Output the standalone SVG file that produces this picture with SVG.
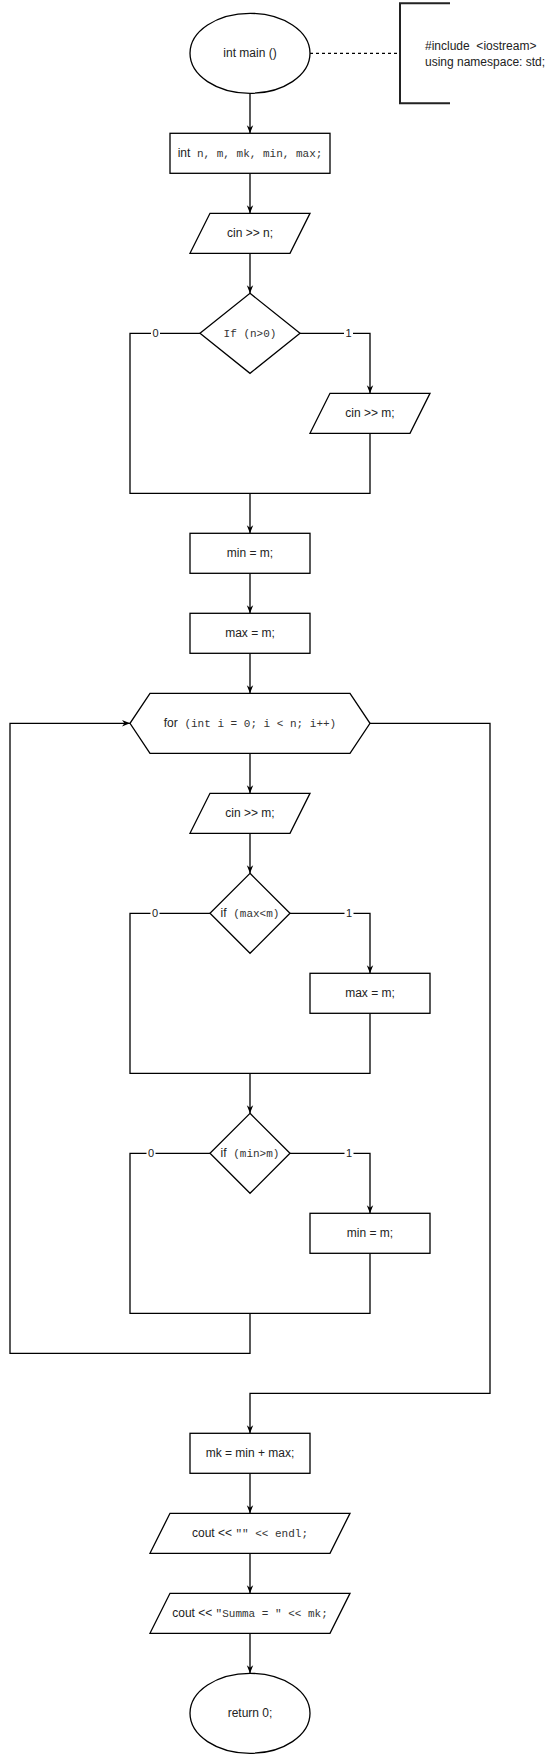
<svg xmlns="http://www.w3.org/2000/svg" width="551" height="1756" viewBox="0 0 551 1756">
<style>
.s{fill:#fff;stroke:#000;stroke-width:1.3}
.t{font-family:"Liberation Sans",Arial,sans-serif;font-size:12px;fill:#222;text-anchor:middle}
.m{font-family:"Liberation Mono","DejaVu Sans Mono",monospace;font-size:11px;fill:#333}
.c{fill:none;stroke:#000;stroke-width:1.3}
.a{marker-end:url(#arr)}
.lb{font-family:"Liberation Sans",Arial,sans-serif;font-size:11px;fill:#222;text-anchor:middle}
</style>
<defs>
<marker id="arr" viewBox="0 0 10 10" refX="10" refY="5" markerWidth="8" markerHeight="8" markerUnits="userSpaceOnUse" orient="auto">
<path d="M0,1 L10,5 L0,9 L3,5 Z" fill="#000"/>
</marker>
</defs>
<rect width="551" height="1756" fill="#fff"/>
<g id="connectors">
<path class="c" d="M310,53.3 H400" stroke-dasharray="3,3"/>
<path class="c a" d="M250,93.3 V133.3"/>
<path class="c a" d="M250,173.3 V213.3"/>
<path class="c a" d="M250,253.3 V293.3"/>
<path class="c" d="M200,333.3 H130 V493.3 H370 V433.3"/>
<path class="c a" d="M300,333.3 H370 V393.3"/>
<path class="c a" d="M250,493.3 V533.3"/>
<path class="c a" d="M250,573.3 V613.3"/>
<path class="c a" d="M250,653.3 V693.3"/>
<path class="c a" d="M250,753.3 V793.3"/>
<path class="c a" d="M250,833.3 V873.3"/>
<path class="c" d="M210,913.3 H130 V1073.3 H370 V1013.3"/>
<path class="c a" d="M290,913.3 H370 V973.3"/>
<path class="c a" d="M250,1073.3 V1113.3"/>
<path class="c" d="M210,1153.3 H130 V1313.3 H370 V1253.3"/>
<path class="c a" d="M290,1153.3 H370 V1213.3"/>
<path class="c a" d="M250,1313.3 V1353.3 H10 V723.3 H130"/>
<path class="c a" d="M370,723.3 H490 V1393.3 H250 V1433.3"/>
<path class="c a" d="M250,1473.3 V1513.3"/>
<path class="c a" d="M250,1553.3 V1593.3"/>
<path class="c a" d="M250,1633.3 V1673.3"/>
<rect x="151" y="326" width="9" height="14" fill="#fff"/><text class="lb" x="155.5" y="337.3">0</text>
<rect x="344" y="326" width="9" height="14" fill="#fff"/><text class="lb" x="348.5" y="337.3">1</text>
<rect x="150.5" y="906" width="9" height="14" fill="#fff"/><text class="lb" x="155" y="917.3">0</text>
<rect x="344.5" y="906" width="9" height="14" fill="#fff"/><text class="lb" x="349" y="917.3">1</text>
<rect x="146.5" y="1146" width="9" height="14" fill="#fff"/><text class="lb" x="151" y="1157.3">0</text>
<rect x="344.5" y="1146" width="9" height="14" fill="#fff"/><text class="lb" x="349" y="1157.3">1</text>
</g>
<g id="start">
<ellipse class="s" cx="250" cy="53.3" rx="60" ry="40"/>
<text class="t" x="250" y="57.3">int main ()</text>
</g>
<g id="note">
<path d="M450,3.3 H400 V103.3 H450" fill="none" stroke="#222" stroke-width="2"/>
<text x="425" y="50" font-family="Liberation Sans, Arial, sans-serif" font-size="12" fill="#222" xml:space="preserve">#include  &lt;iostream&gt;</text>
<text x="425" y="65.5" font-family="Liberation Sans, Arial, sans-serif" font-size="12" fill="#222">using namespace: std;</text>
</g>
<g id="decl">
<rect class="s" x="170" y="133.3" width="160" height="40"/>
<text class="t" x="250" y="157.3">int<tspan class="m" xml:space="preserve"> n, m, mk, min, max;</tspan></text>
</g>
<g id="in_n">
<polygon class="s" points="210,213.3 310,213.3 290,253.3 190,253.3"/>
<text class="t" x="250" y="237.3">cin &gt;&gt; n;</text>
</g>
<g id="if_n">
<polygon class="s" points="250,293.3 300,333.3 250,373.3 200,333.3"/>
<text class="t" x="250" y="337.3"><tspan class="m">If (n&gt;0)</tspan></text>
</g>
<g id="in_m1">
<polygon class="s" points="330,393.3 430,393.3 410,433.3 310,433.3"/>
<text class="t" x="370" y="417.3">cin &gt;&gt; m;</text>
</g>
<g id="min_init">
<rect class="s" x="190" y="533.3" width="120" height="40"/>
<text class="t" x="250" y="557.3">min = m;</text>
</g>
<g id="max_init">
<rect class="s" x="190" y="613.3" width="120" height="40"/>
<text class="t" x="250" y="637.3">max = m;</text>
</g>
<g id="for">
<polygon class="s" points="150,693.3 350,693.3 370,723.3 350,753.3 150,753.3 130,723.3"/>
<text class="t" x="250" y="727.3">for<tspan class="m" xml:space="preserve"> (int i = 0; i &lt; n; i++)</tspan></text>
</g>
<g id="in_m2">
<polygon class="s" points="210,793.3 310,793.3 290,833.3 190,833.3"/>
<text class="t" x="250" y="817.3">cin &gt;&gt; m;</text>
</g>
<g id="if_max">
<polygon class="s" points="250,873.3 290,913.3 250,953.3 210,913.3"/>
<text class="t" x="250" y="917.3">if<tspan class="m" font-size="10.5" xml:space="preserve"> (max&lt;m)</tspan></text>
</g>
<g id="max_set">
<rect class="s" x="310" y="973.3" width="120" height="40"/>
<text class="t" x="370" y="997.3">max = m;</text>
</g>
<g id="if_min">
<polygon class="s" points="250,1113.3 290,1153.3 250,1193.3 210,1153.3"/>
<text class="t" x="250" y="1157.3">if<tspan class="m" font-size="10.5" xml:space="preserve"> (min&gt;m)</tspan></text>
</g>
<g id="min_set">
<rect class="s" x="310" y="1213.3" width="120" height="40"/>
<text class="t" x="370" y="1237.3">min = m;</text>
</g>
<g id="mk">
<rect class="s" x="190" y="1433.3" width="120" height="40"/>
<text class="t" x="250" y="1457.3">mk = min + max;</text>
</g>
<g id="out1">
<polygon class="s" points="170,1513.3 350,1513.3 330,1553.3 150,1553.3"/>
<text class="t" x="250" y="1537.3" xml:space="preserve">cout &lt;&lt; <tspan class="m">"" &lt;&lt; endl;</tspan></text>
</g>
<g id="out2">
<polygon class="s" points="170,1593.3 350,1593.3 330,1633.3 150,1633.3"/>
<text class="t" x="250" y="1617.3" xml:space="preserve">cout &lt;&lt; <tspan class="m">"Summa = " &lt;&lt; mk;</tspan></text>
</g>
<g id="end">
<ellipse class="s" cx="250" cy="1713.3" rx="60" ry="40"/>
<text class="t" x="250" y="1717.3">return 0;</text>
</g>
</svg>
